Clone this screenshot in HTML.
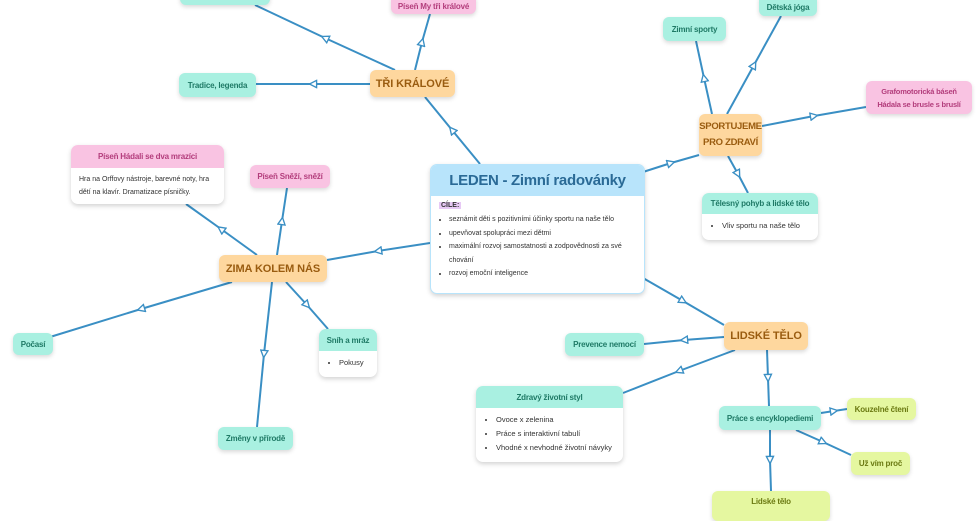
<!DOCTYPE html><html><head><meta charset="utf-8"><style>
body{margin:0;width:980px;height:510px;overflow:hidden;background:#fff;font-family:"Liberation Sans",sans-serif;position:relative}
.n{position:absolute;border-radius:6px;box-shadow:0 2px 4px rgba(0,0,0,.15);display:flex;align-items:center;justify-content:center;text-align:center;font-weight:bold;font-size:8px;letter-spacing:-0.2px;white-space:nowrap;box-sizing:border-box;overflow:hidden}
.t{background:#a9f0e1;color:#1f7a66}.p{background:#f9c3e2;color:#b33d7c}.o{background:#fed79e;color:#9a5c10;font-size:11px;letter-spacing:-0.1px}.y{background:#e5f7a0;color:#6b7a12}
.c{position:absolute;border-radius:7px;box-shadow:0 2px 5px rgba(0,0,0,.18);background:#fff;overflow:hidden;font-size:7.5px;color:#333}
.c .h{display:flex;align-items:center;justify-content:center;font-weight:bold;font-size:8px;white-space:nowrap;letter-spacing:-0.2px}
.c ul{margin:6px 0 0 0;padding-left:22px;line-height:14px;white-space:nowrap}
svg{position:absolute;left:0;top:0}
</style></head><body>
<svg width="980" height="510"><defs><marker id="a" viewBox="0 0 10 10" refX="5" refY="5" markerWidth="9" markerHeight="9" markerUnits="userSpaceOnUse" orient="auto"><path d="M1 1L9 5L1 9Z" fill="#fff" stroke="#3a8fc4" stroke-width="1.5"/></marker></defs>
<g stroke="#3a8fc4" stroke-width="2" fill="none" marker-mid="url(#a)">
<polyline points="480,164 452,130 425,97"/>
<polyline points="395,70 325,38 255,5"/>
<polyline points="370,84 313,84 256,84"/>
<polyline points="415,70 422,42 430,14"/>
<polyline points="643,172 671,163 699,155"/>
<polyline points="712,114 704,78 696,41"/>
<polyline points="727,114 754,65 781,16"/>
<polyline points="762,126 814,116 866,107"/>
<polyline points="728,156 738,174 748,193"/>
<polyline points="430,243 378,251 327,260"/>
<polyline points="257,255 221,229 186,204"/>
<polyline points="277,255 282,221 287,188"/>
<polyline points="232,282 141,309 50,337"/>
<polyline points="272,282 264,354 257,427"/>
<polyline points="286,282 307,305 328,329"/>
<polyline points="643,278 683,301 724,325"/>
<polyline points="724,337 684,340 644,344"/>
<polyline points="735,350 679,371 623,393"/>
<polyline points="767,350 768,378 769,406"/>
<polyline points="821,413 834,411 847,409"/>
<polyline points="796,430 823,442 851,455"/>
<polyline points="770,430 770,460 771,491"/>
</g></svg>

<div class="c" style="left:430px;top:164px;width:213px;height:128px;border:1px solid #b8e4fb">
<div class="h" style="background:#b8e4fb;color:#2a6a96;font-size:15px;height:31px;letter-spacing:-0.3px">LEDEN - Zimní radovánky</div>
<div style="margin:6px 0 0 8px;font-weight:bold;font-size:7px;color:#333"><span style="background:#e7c9f5;padding:0 2px">CÍLE:</span></div>
<ul style="margin-top:4px;padding-left:18px;line-height:13.5px;font-size:7px;white-space:normal;padding-right:6px">
<li>seznámit děti s pozitivními účinky sportu na naše tělo</li>
<li>upevňovat spolupráci mezi dětmi</li>
<li>maximální rozvoj samostatnosti a zodpovědnosti za své chování</li>
<li>rozvoj emoční inteligence</li></ul></div>

<div class="n o" style="left:370px;top:70px;width:85px;height:27px">TŘI KRÁLOVÉ</div>
<div class="n p" style="left:391px;top:-6px;width:85px;height:20px;padding-top:4px">Píseň My tři králové</div>
<div class="n t" style="left:180px;top:-10px;width:90px;height:15px"></div>
<div class="n t" style="left:179px;top:73px;width:77px;height:24px">Tradice, legenda</div>

<div class="n o" style="left:699px;top:114px;width:63px;height:42px;line-height:16px;font-size:9.5px;letter-spacing:-0.3px">SPORTUJEME<br>PRO ZDRAVÍ</div>
<div class="n t" style="left:663px;top:17px;width:63px;height:24px">Zimní sporty</div>
<div class="n t" style="left:759px;top:-6px;width:58px;height:22px;padding-top:4px">Dětská jóga</div>
<div class="n p" style="left:866px;top:81px;width:106px;height:33px;line-height:13px;font-size:7.5px">Grafomotorická báseň<br>Hádala se brusle s bruslí</div>
<div class="c" style="left:702px;top:193px;width:116px;height:47px">
<div class="h t" style="height:21px;background:#a9f0e1;color:#1f7a66">Tělesný pohyb a lidské tělo</div>
<ul style="margin-top:5px;padding-left:20px"><li>Vliv sportu na naše tělo</li></ul></div>

<div class="n o" style="left:219px;top:255px;width:108px;height:27px">ZIMA KOLEM NÁS</div>
<div class="c" style="left:71px;top:145px;width:153px;height:59px">
<div class="h" style="height:23px;background:#f9c3e2;color:#b33d7c">Píseň Hádali se dva mrazíci</div>
<div style="padding:5px 8px;line-height:13px;font-size:7px">Hra na Orffovy nástroje, barevné noty, hra dětí na klavír. Dramatizace písničky.</div></div>
<div class="n p" style="left:250px;top:165px;width:80px;height:23px">Píseň Sněží, sněží</div>
<div class="n t" style="left:13px;top:333px;width:40px;height:22px">Počasí</div>
<div class="c" style="left:319px;top:329px;width:58px;height:48px">
<div class="h" style="height:22px;background:#a9f0e1;color:#1f7a66">Sníh a mráz</div>
<ul style="margin-top:5px;padding-left:20px"><li>Pokusy</li></ul></div>
<div class="n t" style="left:218px;top:427px;width:75px;height:23px">Změny v přírodě</div>

<div class="n o" style="left:724px;top:322px;width:84px;height:28px">LIDSKÉ TĚLO</div>
<div class="n t" style="left:565px;top:333px;width:79px;height:23px">Prevence nemocí</div>
<div class="c" style="left:476px;top:386px;width:147px;height:76px">
<div class="h" style="height:22px;background:#a9f0e1;color:#1f7a66">Zdravý životní styl</div>
<ul style="margin-top:5px;padding-left:20px"><li>Ovoce x zelenina</li><li>Práce s interaktivní tabulí</li><li>Vhodné x nevhodné životní návyky</li></ul></div>
<div class="n t" style="left:719px;top:406px;width:102px;height:24px">Práce s encyklopediemi</div>
<div class="n y" style="left:847px;top:398px;width:69px;height:22px">Kouzelné čtení</div>
<div class="n y" style="left:851px;top:452px;width:59px;height:23px">Už vím proč</div>
<div class="n y" style="left:712px;top:491px;width:118px;height:30px;align-items:flex-start;padding-top:6px">Lidské tělo</div>
</body></html>
